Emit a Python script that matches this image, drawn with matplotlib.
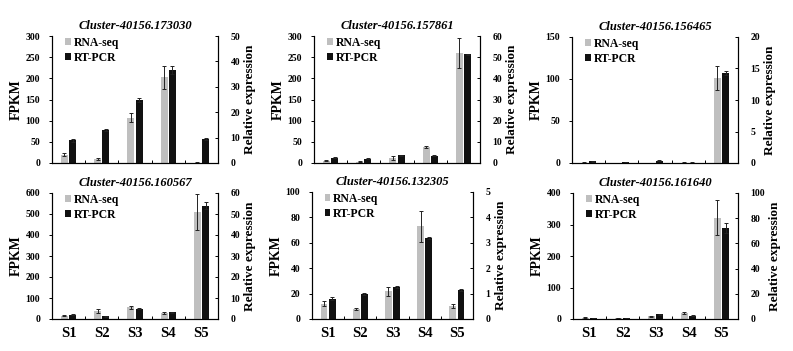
import numpy as np
import matplotlib.pyplot as plt

plt.rcParams['font.family'] = ['Liberation Serif', 'DejaVu Serif']
plt.rcParams['font.weight'] = 'bold'

samples = ['S1', 'S2', 'S3', 'S4', 'S5']

titles = ['Cluster-40156.173030', 'Cluster-40156.157861', 'Cluster-40156.156465',
          'Cluster-40156.160567', 'Cluster-40156.132305', 'Cluster-40156.161640']

# RNA-seq FPKM (left axis) and error
rna = [[20, 10, 107, 202, 1],
       [5, 3, 12, 38, 260],
       [0.5, 0.3, 0.3, 0.5, 101],
       [15, 40, 55, 27, 510],
       [12, 8, 22, 73, 10],
       [4, 3, 9, 19, 322]]
rna_err = [[3, 2, 10, 28, 0.5],
           [1, 1, 4, 3, 35],
           [0.2, 0.1, 0.1, 0.2, 14],
           [3, 10, 5, 5, 85],
           [2, 1, 3.5, 12, 1.5],
           [1, 1, 2, 4, 55]]

# RT-PCR relative expression (right axis) and error
pcr = [[9, 13, 24.7, 36.7, 9.5],
       [2.4, 2.0, 3.6, 3.4, 51.4],
       [0.25, 0.1, 0.35, 0.05, 14.3],
       [2.0, 1.2, 5.0, 3.2, 54],
       [0.8, 0.98, 1.25, 3.18, 1.15],
       [0.75, 0.75, 3.75, 2.5, 72]]
pcr_err = [[0.6, 0.3, 0.8, 1.6, 0.4],
           [0.2, 0.2, 0.2, 0.2, 0.3],
           [0.05, 0.05, 0.05, 0.05, 0.3],
           [0.3, 0.2, 0.3, 0.3, 1.5],
           [0.07, 0.04, 0.03, 0.05, 0.03],
           [0.2, 0.2, 0.3, 0.3, 4]]

left_lim = [300, 300, 150, 600, 100, 400]
left_step = [50, 50, 50, 100, 20, 100]
right_lim = [50, 60, 20, 60, 5, 100]
right_step = [10, 10, 5, 10, 1, 20]

# axes boxes in pixels: left, top, right, bottom
boxes = [(52, 36, 218, 163), (314, 36, 480, 163), (572, 37, 738, 163),
         (52, 193, 218, 319), (312, 192, 473, 319), (573, 193, 738, 319)]

W, H = 793, 351
fig = plt.figure(figsize=(W / 100, H / 100), dpi=100)

x = np.arange(len(samples))
bw = 0.21
ekw = dict(elinewidth=0.7, capsize=1.5, capthick=0.7, ecolor='#222222')

for i in range(6):
    l, t, r, b = boxes[i]
    ax = fig.add_axes([l / W, 1 - b / H, (r - l) / W, (b - t) / H])
    ax2 = ax.twinx()
    ax.bar(x - bw / 2 - 0.02, rna[i], bw, yerr=rna_err[i], color='#bfbfbf',
           error_kw=ekw, label='RNA-seq')
    ax2.bar(x + bw / 2 + 0.02, pcr[i], bw, yerr=pcr_err[i], color='#111111',
            error_kw=ekw, label='RT-PCR')
    ax.set_xlim(-0.5, 4.5)
    ax.set_ylim(0, left_lim[i])
    ax2.set_ylim(0, right_lim[i])
    ax.set_yticks(np.arange(0, left_lim[i] + 1, left_step[i]))
    ax2.set_yticks(np.arange(0, right_lim[i] + 0.01, right_step[i]))
    ax.set_xticks(np.arange(-0.5, 4.6, 1.0))
    ax.set_xticklabels([])
    ax.tick_params(axis='x', direction='in', length=2.5, width=0.7)
    if i >= 3:
        ax.set_xticks(x, minor=True)
        ax.set_xticklabels(samples, minor=True, fontsize=10.5, fontweight='bold')
        ax.tick_params(axis='x', which='minor', length=0, pad=6)
    ax.tick_params(axis='y', direction='out', length=2.5, width=0.7, labelsize=7, pad=6)
    ax2.tick_params(axis='y', direction='in', length=2.5, width=0.7, labelsize=7, pad=9)
    for a in (ax, ax2):
        a.spines['top'].set_visible(False)
        for s in a.spines.values():
            s.set_linewidth(0.8)
    ax.set_ylabel('FPKM', fontsize=10, fontweight='bold', labelpad=2)
    ax2.set_ylabel('Relative expression', fontsize=9.5, fontweight='bold', labelpad=3)
    ax.set_title(titles[i], fontsize=9, fontweight='bold', style='italic', pad=5)
    h1, l1 = ax.get_legend_handles_labels()
    h2, l2 = ax2.get_legend_handles_labels()
    ax2.legend(h1 + h2, l1 + l2, loc='upper left', bbox_to_anchor=(0.03, 1.06),
               frameon=False, fontsize=8.5, handlelength=0.45, handleheight=0.45,
               handletextpad=0.25, labelspacing=0.25, borderaxespad=0.3)

fig.savefig('out.png', dpi=100)
